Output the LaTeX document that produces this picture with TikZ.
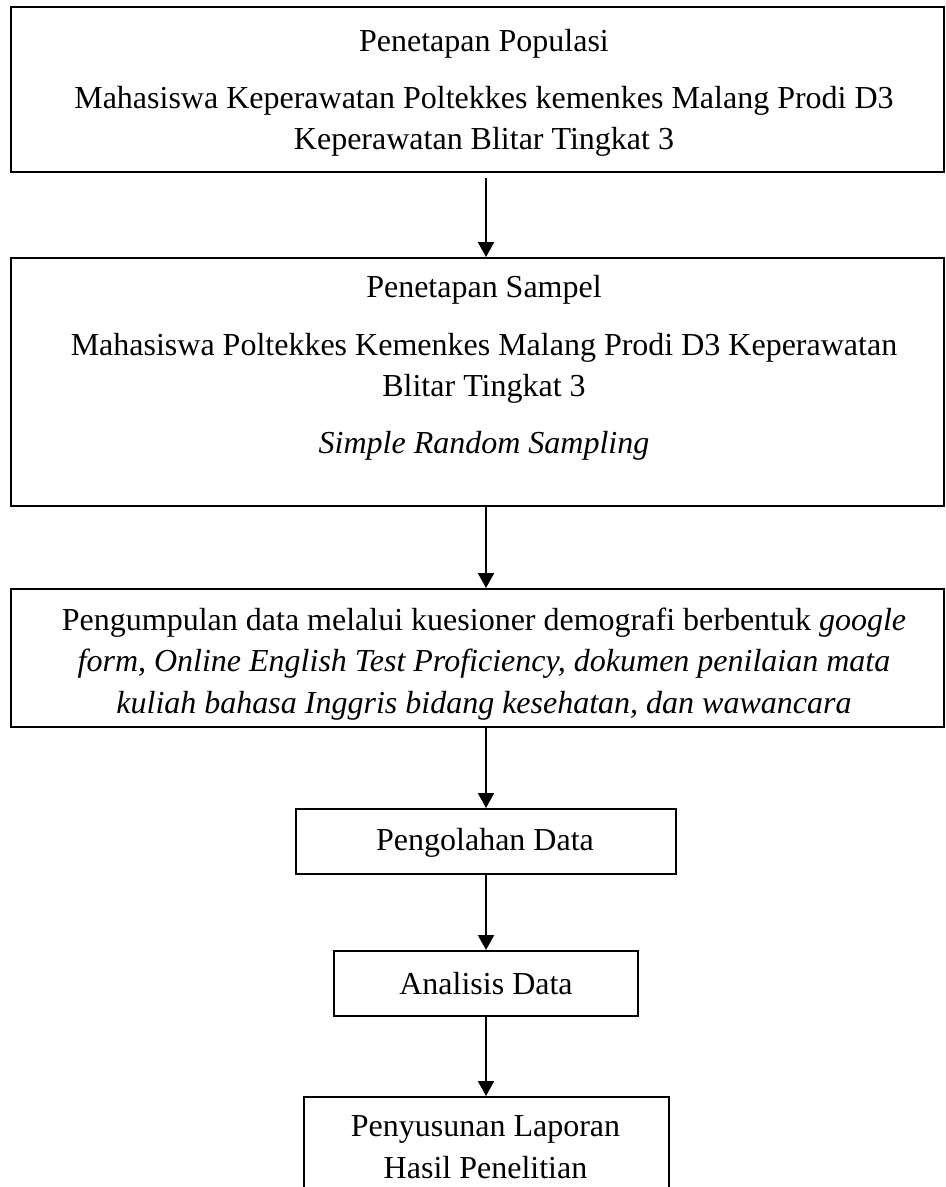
\documentclass[tikz,border=0pt]{standalone}
\usepackage{fontspec}
\setmainfont{Liberation Serif}
\usetikzlibrary{arrows.meta}

\begin{document}
\begin{tikzpicture}
[x=0.375pt,y=-0.375pt,>={Triangle[width=6pt,length=5.6pt]},
box/.style = {draw, line width=0.75pt, inner sep=0pt},
txt/.style = {inner sep=0pt, align=center, font=\fontsize{12pt}{15.5pt}\selectfont},]

\useasboundingbox (0,0) rectangle (945,1187);

% frames
\node (pop) at (477.5,89.5)[box,minimum width=933*0.375pt,minimum height=165*0.375pt] {};
\node (sam) at (477.5,382)[box,minimum width=933*0.375pt,minimum height=248*0.375pt] {};
\node (kum) at (477.5,658)[box,minimum width=933*0.375pt,minimum height=138*0.375pt] {};
\node (olah) at (486,841.5)[box,minimum width=380*0.375pt,minimum height=65*0.375pt] {};
\node (ana) at (486,983.5)[box,minimum width=304*0.375pt,minimum height=65*0.375pt] {};
\node (lap) at (486,1146)[box,minimum width=365*0.375pt,minimum height=98*0.375pt] {};

% texts
\node (popt) at (484,93)[txt]
{Penetapan Populasi\\[6pt]
Mahasiswa Keperawatan Poltekkes kemenkes Malang Prodi D3\\
Keperawatan Blitar Tingkat 3};
\node (samt) at (484,368)[txt]
{Penetapan Sampel\\[6pt]
Mahasiswa Poltekkes Kemenkes Malang Prodi D3 Keperawatan\\
Blitar Tingkat 3\\[6pt]
\textit{Simple Random Sampling}};
\node (kumt) at (484,664)[txt]
{Pengumpulan data melalui kuesioner demografi berbentuk \textit{google}\\
\textit{form, Online English Test Proficiency, dokumen penilaian mata}\\
\textit{kuliah bahasa Inggris bidang kesehatan, dan wawancara}};
\node (olaht) at (485,843)[txt] {Pengolahan Data};
\node (anat) at (486,984)[txt] {Analisis Data};
\node (lapt) at (485.5,1147)[txt]
{Penyusunan Laporan\\
Hasil Penelitian};

\draw [->,line width=0.75pt,shorten <=2pt](pop.south -| ana.center)--(sam.north -| ana.center);
\draw [->,line width=0.75pt](sam.south -| ana.center)--(kum.north -| ana.center);
\draw [->,line width=0.75pt](kum.south -| ana.center)--(olah.north);
\draw [->,line width=0.75pt](olah.south)--(ana.north);
\draw [->,line width=0.75pt](ana.south)--(lap.north);

\end{tikzpicture}
\end{document}
